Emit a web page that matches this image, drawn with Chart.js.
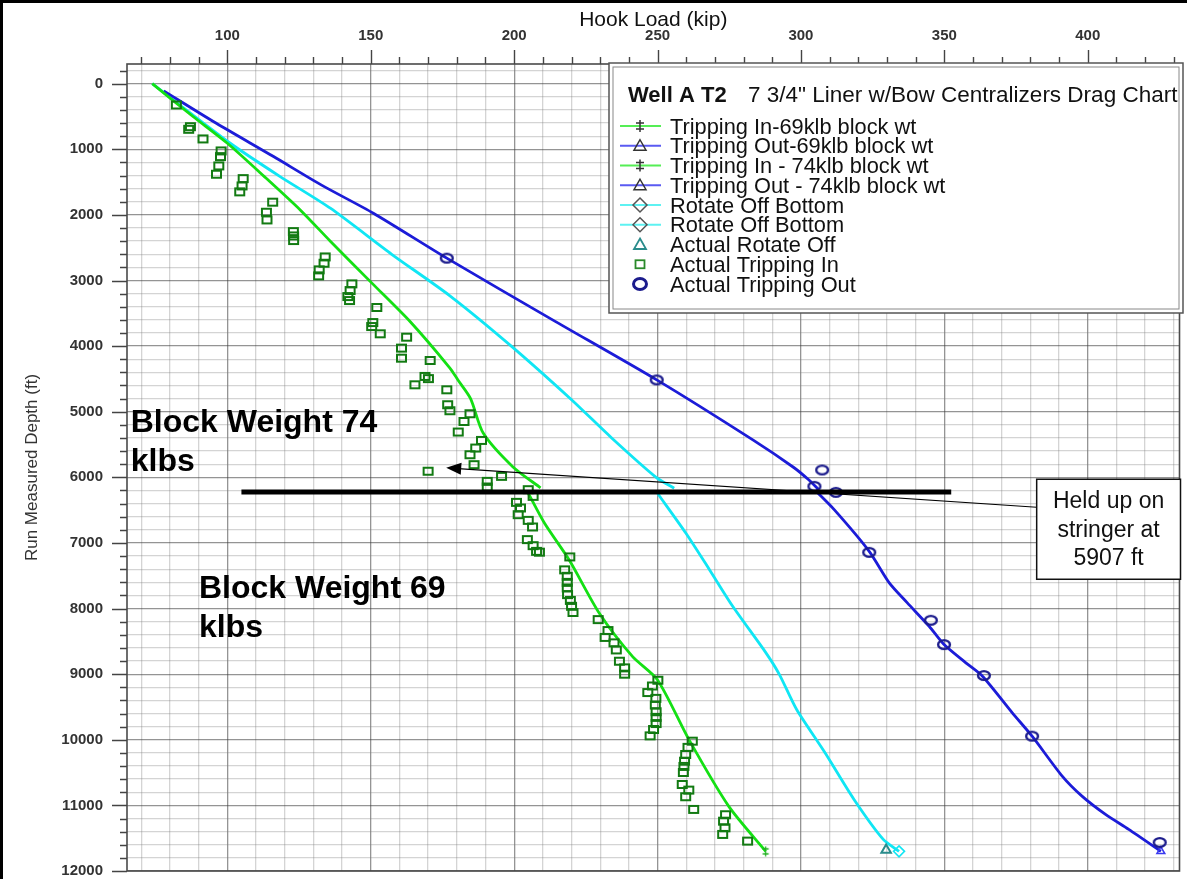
<!DOCTYPE html>
<html>
<head>
<meta charset="utf-8">
<script src="https://cdn.jsdelivr.net/npm/chart.js@4.4.1/dist/chart.umd.min.js"></script>
<style>
  html, body { margin: 0; padding: 0; background: #fff; }
  #wrap { position: relative; width: 1187px; height: 879px; }
</style>
</head>
<body>
<div id="wrap"><canvas id="drag"></canvas></div>
<script>
const FONT = '"Liberation Sans", Arial, sans-serif';

// Axis ranges: hook load (kip) across the top, run measured depth (ft) downwards
const loadRange = [65, 432];
const depthRange = [-300, 12000];
const loadStep = 10, loadLabelEvery = 50;
const depthStep = 200, depthLabelEvery = 1000;

// Modelled drag curves, each point is [hook load kip, measured depth ft]
const tripIn74 = [[73.8,0],[88,500],[100,908],[113,1420],[125.4,1924],[135.9,2400],[150.4,3040],[163.7,3625],[177.6,4334],[180.4,4517],[184.8,4800],[189.2,5325],[199.5,5837],[209.2,6160]];
const tripOut74 = [[77.8,110],[96,600],[116.1,1111],[133,1550],[150.9,1974],[176.5,2659],[213.4,3600],[249.7,4515],[283.1,5426],[297.5,5850],[302.5,6030],[306,6180]];
const rotateOff74 = [[73.8,0],[101,908],[118.4,1416],[135.9,1898],[157.3,2600],[177.6,3233],[199,4000],[220,4817],[234,5400],[249.5,6000],[255.8,6167]];
const tripIn69 = [[204.9,6240],[210.6,6700],[219.2,7260],[229.7,8072],[241.3,8733],[250,9088],[261,10002],[274.9,11019],[287.7,11700]];
const tripOut69 = [[305,6200],[311.6,6493],[323.8,7128],[330.8,7609],[337.1,7914],[344.7,8270],[349.9,8549],[357.5,8827],[363.3,9031],[373.7,9589],[380.6,9945],[391.1,10554],[398,10859],[406.2,11138],[414.3,11366],[425.5,11700]];
const rotateOff69 = [[250.1,6250],[259.9,6852],[268,7400],[276.2,7965],[287.8,8675],[292.5,9006],[298.5,9539],[308.4,10198],[318.5,10909],[328.7,11518],[334.2,11700]];

// Field readings
const actualRotateOff = [[329.7,11680]];
const actualTripIn = [
  [82.2,324],[87.1,655],[86.5,695],[91.5,842],[97.8,1025],[97.6,1111],[97,1253],[96.2,1380],
  [105.5,1447],[105.1,1558],[104.3,1649],[115.8,1806],[113.6,1959],[113.8,2076],[123,2254],[123.1,2320],
  [123.1,2391],[134.1,2640],[133.7,2736],[132,2837],[131.8,2929],[143.4,3051],[142.8,3153],[142,3244],
  [142.6,3305],[152.1,3411],[150.7,3640],[150.3,3701],[153.3,3812],[162.5,3863],[160.7,4030],[160.7,4183],
  [170.7,4219],[168.9,4462],[170.1,4495],[165.4,4589],[176.5,4665],[176.8,4893],[177.6,4985],[184.6,5030],
  [182.5,5148],[180.5,5309],[188.6,5437],[186.6,5553],[184.6,5655],[186,5807],[170,5907],[195.6,5985],
  [190.6,6061],[190.6,6147],[204.9,6188],[206.6,6290],[200.8,6381],[202.2,6467],[201.4,6569],[204.9,6655],
  [206.4,6756],[204.6,6949],[206.6,7041],[207.8,7128],[208.8,7140],[219.4,7213],[217.6,7410],[218.5,7508],
  [218.5,7600],[218.5,7685],[218.6,7787],[219.6,7876],[220,7965],[220.5,8060],[229.3,8168],[232.7,8335],
  [231.7,8440],[234.8,8523],[235.6,8630],[236.7,8803],[238.5,8904],[238.5,9000],[250.1,9092],[248.2,9180],
  [246.6,9280],[249.4,9368],[249.2,9470],[249.5,9572],[249.5,9658],[249.5,9752],[248.6,9843],[247.4,9940],
  [262.1,10021],[260.6,10115],[259.8,10224],[259.4,10326],[259.2,10406],[259,10498],[258.6,10681],[260.9,10767],
  [259.8,10868],[262.6,11061],[273.7,11142],[273,11240],[273.5,11341],[272.7,11442],[281.4,11544]
];
const actualTripOut = [[176.5,2659],[249.7,4515],[307.4,5888],[304.7,6137],[312.2,6229],[323.8,7143],[345.3,8179],[349.9,8549],[363.8,9021],[380.6,9945],[425.1,11565]];

// Notes placed on the plot (load in kip, depth in ft)
const blockChange = { depth: 6225, fromLoad: 104.9, toLoad: 352.4 };
const stringerArrow = { fromLoad: 382.2, fromDepth: 6456, toLoad: 176.3, toDepth: 5855 };
const stringerNote = ['Held up on', 'stringer at', '5907 ft'];
const blockNotes = [
  { lines: ['Block Weight 74', 'klbs'], load: 66.3, depth: 5304 },
  { lines: ['Block Weight 69', 'klbs'], load: 90.1, depth: 7843 }
];
const chartHeading = ['Well A T2', '7 3/4" Liner w/Bow Centralizers Drag Chart'];

const GREEN = '#14e014', BLUE = '#1c1cd8', CYAN = '#10e6f4';
const SQUARE_GREEN = '#127a12', NAVY = '#1c1c8c', TEAL = '#2a8c8c';

function sprite(w, h, paint) {
  const c = document.createElement('canvas');
  c.width = w; c.height = h;
  paint(c.getContext('2d'));
  return c;
}
const squareMark = sprite(13, 11, g => { g.strokeStyle = SQUARE_GREEN; g.lineWidth = 2; g.strokeRect(2, 2, 9, 7); });
const ovalMark = sprite(18, 15, g => { g.strokeStyle = NAVY; g.lineWidth = 2.4; g.beginPath(); g.ellipse(9, 7.5, 5.9, 4.4, 0, 0, Math.PI * 2); g.stroke(); });
const ibeamMark = sprite(9, 11, g => {
  g.strokeStyle = '#20b020'; g.lineWidth = 1.3;
  g.beginPath(); g.moveTo(4.5, 0.5); g.lineTo(4.5, 10.5);
  g.moveTo(1.5, 3); g.lineTo(7.5, 3); g.moveTo(1.5, 8); g.lineTo(7.5, 8); g.stroke();
});

const pts = arr => arr.map(([x, y]) => ({ x, y }));
const lastOnly = r => ctx => (ctx.dataIndex === ctx.dataset.data.length - 1 ? r : 0);

function curve(label, data, color, marker, endStyle, endColor, endRadius) {
  return {
    label, data: pts(data), showLine: true, borderColor: color, borderWidth: 2.8,
    tension: 0.25, backgroundColor: 'rgba(0,0,0,0)',
    pointRadius: endStyle ? lastOnly(endRadius) : 0, pointHoverRadius: 0,
    pointStyle: endStyle || 'circle', pointBorderColor: endColor || color, pointBorderWidth: 1.6,
    pointBackgroundColor: 'rgba(0,0,0,0)', legendMarker: marker
  };
}

const datasets = [
  curve('Tripping In-69klb block wt', tripIn69, GREEN, 'ibeam', ibeamMark, GREEN, 4),
  curve('Tripping Out-69klb block wt', tripOut69, BLUE, 'triangle', 'triangle', '#3a3af0', 4.5),
  curve('Tripping In - 74klb block wt', tripIn74, GREEN, 'ibeam'),
  curve('Tripping Out - 74klb block wt', tripOut74, BLUE, 'triangle'),
  curve('Rotate Off Bottom', rotateOff74, CYAN, 'diamond'),
  curve('Rotate Off Bottom', rotateOff69, CYAN, 'diamond', 'rectRot', CYAN, 5.5),
  { label: 'Actual Rotate Off', data: pts(actualRotateOff), showLine: false, order: -1,
    pointStyle: 'triangle', pointRadius: 5.5, pointBorderColor: TEAL, pointBorderWidth: 2,
    pointBackgroundColor: 'rgba(0,0,0,0)', legendMarker: 'tealTriangle' },
  { label: 'Actual Tripping In', data: pts(actualTripIn), showLine: false, order: -1,
    pointStyle: squareMark, pointRadius: 5, legendMarker: 'square' },
  { label: 'Actual Tripping Out', data: pts(actualTripOut), showLine: false, order: -1,
    pointStyle: ovalMark, pointRadius: 6, legendMarker: 'oval' }
];

// Frame, tick marks, notes and the legend panel, all positioned through the scales
const overlay = {
  id: 'overlay',
  afterDatasetsDraw(chart) {
    const { ctx, chartArea: a, scales: { x, y } } = chart;
    ctx.save();

    // plot frame
    ctx.strokeStyle = '#4a4a4a'; ctx.lineWidth = 1.6;
    ctx.strokeRect(a.left, a.top, a.right - a.left, a.bottom - a.top);

    // tick marks: long on labelled values, short elsewhere
    ctx.strokeStyle = '#444'; ctx.lineWidth = 1.4;
    ctx.beginPath();
    x.ticks.forEach(t => {
      const px = Math.round(x.getPixelForValue(t.value)) + 0.5;
      const len = t.value % loadLabelEvery === 0 ? 14 : 7;
      ctx.moveTo(px, a.top); ctx.lineTo(px, a.top - len);
    });
    y.ticks.forEach(t => {
      const py = Math.round(y.getPixelForValue(t.value)) + 0.5;
      const len = t.value % depthLabelEvery === 0 ? 15 : 7;
      ctx.moveTo(a.left, py); ctx.lineTo(a.left - len, py);
    });
    ctx.stroke();

    // block weight change at the stringer
    ctx.strokeStyle = '#000'; ctx.lineWidth = 5;
    ctx.beginPath();
    const by = y.getPixelForValue(blockChange.depth);
    ctx.moveTo(x.getPixelForValue(blockChange.fromLoad), by);
    ctx.lineTo(x.getPixelForValue(blockChange.toLoad), by);
    ctx.stroke();

    // arrow from the note to the stringer reading
    const x0 = x.getPixelForValue(stringerArrow.fromLoad), y0 = y.getPixelForValue(stringerArrow.fromDepth);
    const x1 = x.getPixelForValue(stringerArrow.toLoad), y1 = y.getPixelForValue(stringerArrow.toDepth);
    const ang = Math.atan2(y1 - y0, x1 - x0);
    ctx.lineWidth = 1.1;
    ctx.beginPath(); ctx.moveTo(x0, y0); ctx.lineTo(x1 - 12 * Math.cos(ang), y1 - 12 * Math.sin(ang)); ctx.stroke();
    ctx.fillStyle = '#000';
    ctx.beginPath();
    ctx.moveTo(x1, y1);
    ctx.lineTo(x1 - 15 * Math.cos(ang) + 6 * Math.sin(ang), y1 - 15 * Math.sin(ang) - 6 * Math.cos(ang));
    ctx.lineTo(x1 - 15 * Math.cos(ang) - 6 * Math.sin(ang), y1 - 15 * Math.sin(ang) + 6 * Math.cos(ang));
    ctx.closePath(); ctx.fill();

    // stringer note box
    const boxTop = y0 - 28, boxBottom = y0 + 72, boxLeft = x0, boxRight = a.right + 1;
    ctx.fillStyle = '#fff';
    ctx.fillRect(boxLeft, boxTop, boxRight - boxLeft, boxBottom - boxTop);
    ctx.strokeStyle = '#111'; ctx.lineWidth = 1.5;
    ctx.strokeRect(boxLeft, boxTop, boxRight - boxLeft, boxBottom - boxTop);
    ctx.fillStyle = '#111'; ctx.font = '23px ' + FONT; ctx.textAlign = 'center'; ctx.textBaseline = 'alphabetic';
    stringerNote.forEach((s, i) => ctx.fillText(s, (boxLeft + boxRight) / 2, boxTop + 29 + i * 28.5));

    // block weight labels
    ctx.textAlign = 'left'; ctx.fillStyle = '#000'; ctx.font = 'bold 32px ' + FONT;
    blockNotes.forEach(n => {
      const nx = x.getPixelForValue(n.load), ny = y.getPixelForValue(n.depth);
      n.lines.forEach((s, i) => ctx.fillText(s, nx, ny + i * 39));
    });

    // legend panel
    const L = { left: 609, top: 63, right: 1183, bottom: 313 };
    ctx.fillStyle = '#fff';
    ctx.fillRect(L.left, L.top, L.right - L.left, L.bottom - L.top);
    ctx.strokeStyle = '#555'; ctx.lineWidth = 1.5;
    ctx.strokeRect(L.left, L.top, L.right - L.left, L.bottom - L.top);
    ctx.strokeStyle = '#888'; ctx.lineWidth = 1;
    ctx.strokeRect(L.left + 4, L.top + 4, L.right - L.left - 8, L.bottom - L.top - 8);

    ctx.fillStyle = '#111';
    ctx.font = 'bold 22px ' + FONT; ctx.fillText(chartHeading[0], 628, 102);
    ctx.font = '22.5px ' + FONT; ctx.fillText(chartHeading[1], 748, 102);

    const legendLine = { ibeam: '#55ee55', triangle: '#5a5af2', diamond: '#5ef2f2' };
    ctx.font = '21.8px ' + FONT;
    chart.data.datasets.forEach((d, i) => {
      const cy = 126 + i * 19.75, cx = 640;
      const m = d.legendMarker;
      if (legendLine[m]) {
        ctx.strokeStyle = legendLine[m]; ctx.lineWidth = 2;
        ctx.beginPath(); ctx.moveTo(620, cy); ctx.lineTo(661, cy); ctx.stroke();
      }
      ctx.lineWidth = 1.5;
      if (m === 'ibeam') {
        ctx.strokeStyle = '#333';
        ctx.beginPath();
        ctx.moveTo(cx, cy - 6); ctx.lineTo(cx, cy + 6);
        ctx.moveTo(cx - 4, cy - 3); ctx.lineTo(cx + 4, cy - 3);
        ctx.moveTo(cx - 4, cy + 3); ctx.lineTo(cx + 4, cy + 3);
        ctx.stroke();
      } else if (m === 'triangle' || m === 'tealTriangle') {
        ctx.strokeStyle = m === 'triangle' ? '#333' : TEAL; ctx.lineWidth = m === 'triangle' ? 1.5 : 1.8;
        ctx.beginPath(); ctx.moveTo(cx, cy - 6); ctx.lineTo(cx + 6, cy + 4.5); ctx.lineTo(cx - 6, cy + 4.5); ctx.closePath(); ctx.stroke();
      } else if (m === 'diamond') {
        ctx.strokeStyle = '#555';
        ctx.beginPath(); ctx.moveTo(cx, cy - 7); ctx.lineTo(cx + 7, cy); ctx.lineTo(cx, cy + 7); ctx.lineTo(cx - 7, cy); ctx.closePath(); ctx.stroke();
      } else if (m === 'square') {
        ctx.strokeStyle = '#2a8a2a'; ctx.lineWidth = 1.8;
        ctx.strokeRect(cx - 4.5, cy - 4, 9, 8);
      } else if (m === 'oval') {
        ctx.strokeStyle = NAVY; ctx.lineWidth = 3;
        ctx.beginPath(); ctx.ellipse(cx, cy, 6.5, 5.5, 0, 0, Math.PI * 2); ctx.stroke();
      }
      ctx.fillStyle = '#111';
      ctx.fillText(d.label, 670, cy + 7.5);
    });

    // outer picture frame (top and left edges)
    ctx.fillStyle = '#000';
    ctx.fillRect(0, 0, chart.width, 3);
    ctx.fillRect(0, 0, 3, chart.height);
    ctx.restore();
  }
};

const gridColor = (every) => c => (c.tick && c.tick.value % every === 0) ? 'rgba(60,60,60,0.55)' : 'rgba(120,120,120,0.32)';
const noEdgePadding = s => { s.paddingTop = 0; s.paddingBottom = 0; s.paddingLeft = 0; s.paddingRight = 0; };

new Chart(document.getElementById('drag'), {
  type: 'scatter',
  data: { datasets },
  options: {
    responsive: true, maintainAspectRatio: false, animation: false,
    layout: { padding: { top: 0, left: 0, right: 6, bottom: 8 } },
    plugins: { legend: { display: false }, tooltip: { enabled: false } },
    events: [],
    scales: {
      x: {
        type: 'linear', position: 'top', min: loadRange[0], max: loadRange[1],
        ticks: { stepSize: loadStep, includeBounds: false, autoSkip: false, maxRotation: 0, padding: 5,
          color: '#333', font: { family: FONT, size: 15, weight: 'bold' },
          callback: v => (v % loadLabelEvery === 0 ? String(v) : '') },
        grid: { color: gridColor(loadLabelEvery), lineWidth: 1.3, drawTicks: true, tickLength: 14, tickColor: 'rgba(0,0,0,0)' },
        border: { display: false },
        title: { display: true, text: 'Hook Load (kip)', color: '#111', font: { family: FONT, size: 21 }, padding: { top: 8, bottom: 0 } },
        afterFit: s => { s.height = 64; noEdgePadding(s); }
      },
      y: {
        type: 'linear', reverse: true, min: depthRange[0], max: depthRange[1],
        ticks: { stepSize: depthStep, includeBounds: false, autoSkip: false, padding: 9,
          color: '#333', font: { family: FONT, size: 15, weight: 'bold' },
          callback: v => (v % depthLabelEvery === 0 && v >= 0 ? String(v) : '') },
        grid: { color: gridColor(depthLabelEvery), lineWidth: 1.3, drawTicks: true, tickLength: 15, tickColor: 'rgba(0,0,0,0)' },
        border: { display: false },
        title: { display: true, text: 'Run Measured Depth (ft)', color: '#333', font: { family: FONT, size: 17 }, padding: { top: 22, bottom: 0 } },
        afterFit: s => { s.width = 127; noEdgePadding(s); }
      }
    }
  },
  plugins: [overlay]
});
</script>
</body>
</html>
